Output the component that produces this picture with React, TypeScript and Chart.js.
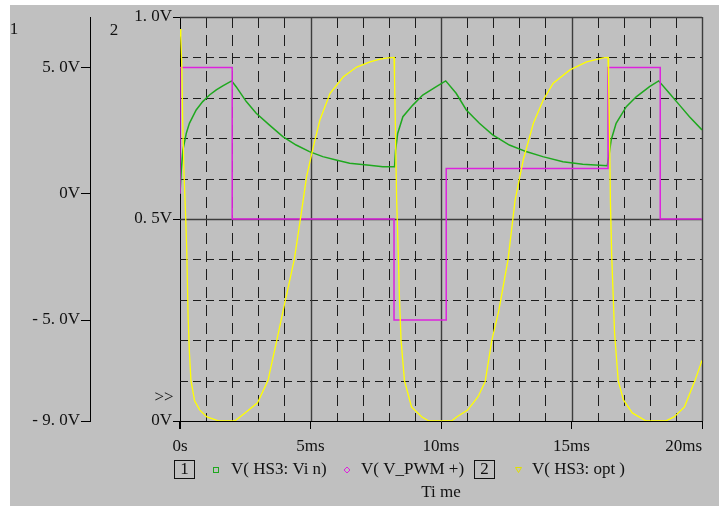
import { useEffect, useRef } from 'react';
import { Chart, registerables } from 'chart.js';

Chart.register(...registerables);

const FONT = '"Liberation Serif", "Times New Roman", serif';

// ---- tick labels ----
const timeTicks = [0, 5, 10, 15, 20];
const timeLabels = ['0s', '5ms', '10ms', '15ms', '20ms'];
const axis1Ticks = [-9, -5, 0, 5];
const axis1Labels = ['- 9. 0V', '- 5. 0V', '0V', '5. 0V'];
const axis2Ticks = [0, 0.5, 1];
const axis2Labels = ['0V', '0. 5V', '1. 0V'];

// ---- V(HS3:Vin) (axis 1, volts) ----
const vinTime = [0, 0.05, 0.11, 0.24, 0.36, 0.62, 0.87, 1.13, 1.39, 1.64, 1.98, 2.15, 2.54, 2.92, 3.43, 3.94, 4.45, 4.96, 5.47, 5.98, 6.5, 7.26, 7.77, 8.22, 8.26, 8.34, 8.54, 8.92, 9.3, 9.82, 10.18, 10.58, 10.97, 11.47, 11.98, 12.62, 13.26, 13.9, 14.67, 15.43, 16.37, 16.43, 16.52, 16.71, 17.1, 17.48, 17.99, 18.34, 18.75, 19.14, 19.52, 20];
const vinVolts = [0, 0.94, 1.73, 2.39, 2.79, 3.32, 3.65, 3.91, 4.11, 4.27, 4.47, 4.24, 3.65, 3.19, 2.72, 2.26, 1.93, 1.67, 1.47, 1.34, 1.21, 1.13, 1.07, 1.07, 1.73, 2.39, 3.05, 3.51, 3.91, 4.24, 4.47, 3.98, 3.32, 2.79, 2.33, 1.93, 1.67, 1.47, 1.27, 1.17, 1.11, 1.47, 2.13, 2.79, 3.45, 3.84, 4.24, 4.47, 3.98, 3.51, 3.05, 2.53];

// ---- V(V_PWM+) (axis 1, volts) ----
const pwmTime = [0, 0, 2, 2, 8.2, 8.2, 10.2, 10.2, 16.4, 16.4, 18.4, 18.4, 20];
const pwmVolts = [0, 5, 5, -1, -1, -5, -5, 1, 1, 5, 5, -1, -1];

// ---- V(HS3:opt) (axis 2, volts) ----
const optTime = [0, 0.03, 0.07, 0.1, 0.15, 0.22, 0.26, 0.31, 0.36, 0.42, 0.56, 0.76, 1.03, 1.5, 2.1, 2.49, 2.97, 3.37, 3.71, 4.04, 4.38, 4.66, 4.85, 5.11, 5.36, 5.75, 6.26, 6.77, 7.28, 7.66, 7.97, 8.2, 8.22, 8.26, 8.3, 8.36, 8.41, 8.47, 8.6, 8.87, 9.27, 9.54, 10.4, 10.6, 11.02, 11.42, 11.69, 11.95, 12.22, 12.57, 12.84, 13.15, 13.54, 13.92, 14.3, 14.94, 15.58, 16.21, 16.4, 16.42, 16.46, 16.49, 16.54, 16.65, 16.79, 16.99, 17.33, 17.86, 18.6, 18.93, 19.33, 19.73, 20];
const optVolts = [0.97, 0.95, 0.88, 0.75, 0.62, 0.5, 0.42, 0.26, 0.17, 0.1, 0.05, 0.027, 0.01, 0, 0, 0.02, 0.045, 0.1, 0.2, 0.3, 0.4, 0.52, 0.605, 0.679, 0.745, 0.811, 0.852, 0.876, 0.889, 0.896, 0.899, 0.9, 0.85, 0.7, 0.55, 0.42, 0.3, 0.2, 0.1, 0.035, 0.01, 0, 0, 0.01, 0.027, 0.06, 0.097, 0.2, 0.275, 0.4, 0.547, 0.646, 0.737, 0.795, 0.836, 0.869, 0.889, 0.899, 0.9, 0.85, 0.7, 0.547, 0.41, 0.218, 0.1, 0.052, 0.02, 0, 0, 0.01, 0.035, 0.1, 0.15];

// grid steps
const minorTimeGrid = [1, 2, 3, 4, 6, 7, 8, 9, 11, 12, 13, 14, 16, 17, 18, 19];
const majorTimeGrid = [5, 10, 15, 20];
const minorVoltGrid = [0.1, 0.2, 0.3, 0.4, 0.6, 0.7, 0.8, 0.9];
const majorVoltGrid = [0.5, 1];

const pairs = (xs: number[], ys: number[]) => xs.map((x, i) => ({ x, y: ys[i] }));

const COLORS = { bg: '#c0c0c0', green: '#1ea81e', magenta: '#dd22dd', yellow: '#ffff00', ink: '#111111', major: '#3c3c3c', minor: '#1c1c1c' };

const bgPlugin = {
  id: 'bgPlugin',
  beforeDraw(chart: any) {
    const { ctx } = chart;
    ctx.save();
    ctx.fillStyle = COLORS.bg;
    ctx.fillRect(10, 5, chart.width - 10, chart.height - 5);
    ctx.restore();
  },
};

const gridPlugin = {
  id: 'gridPlugin',
  beforeDatasetsDraw(chart: any) {
    const { ctx, chartArea } = chart;
    const { left, right, top, bottom } = chartArea;
    const x = chart.scales.x;
    const y2 = chart.scales.y2;
    const al = (v: number) => Math.round(v) + 0.5;
    ctx.save();
    ctx.lineWidth = 1;
    ctx.strokeStyle = COLORS.minor;
    ctx.setLineDash([11, 7]);
    for (const t of minorTimeGrid) {
      const px = al(x.getPixelForValue(t));
      ctx.beginPath(); ctx.moveTo(px, top); ctx.lineTo(px, bottom); ctx.stroke();
    }
    ctx.setLineDash([8, 5]);
    for (const v of minorVoltGrid) {
      const py = al(y2.getPixelForValue(v));
      ctx.beginPath(); ctx.moveTo(left, py); ctx.lineTo(right, py); ctx.stroke();
    }
    ctx.setLineDash([]);
    ctx.strokeStyle = COLORS.major;
    ctx.lineWidth = 1.4;
    for (const t of majorTimeGrid) {
      const px = al(x.getPixelForValue(t));
      ctx.beginPath(); ctx.moveTo(px, top); ctx.lineTo(px, bottom); ctx.stroke();
    }
    for (const v of majorVoltGrid) {
      const py = al(y2.getPixelForValue(v));
      ctx.beginPath(); ctx.moveTo(left, py); ctx.lineTo(right, py); ctx.stroke();
    }
    ctx.restore();
  },
};

const annotatePlugin = {
  id: 'annotatePlugin',
  afterDraw(chart: any) {
    const { ctx } = chart;
    const y2 = chart.scales.y2;
    ctx.save();
    ctx.fillStyle = COLORS.ink;
    ctx.strokeStyle = COLORS.ink;
    ctx.font = `17px ${FONT}`;
    ctx.textBaseline = 'middle';
    ctx.textAlign = 'center';
    ctx.fillText('1', 14, 30);
    ctx.fillText('2', 114, 31);
    ctx.fillText('>>', 164, y2.getPixelForValue(0.057));
    // legend
    const ly = 470;
    ctx.lineWidth = 1;
    ctx.strokeRect(174.5, 460.5, 20, 18);
    ctx.fillText('1', 184.5, ly);
    ctx.strokeRect(474.5, 460.5, 20, 18);
    ctx.fillText('2', 484.5, ly);
    ctx.textAlign = 'left';
    ctx.fillText('V( HS3: Vi n)', 231, ly);
    ctx.fillText('V( V_PWM +)', 361, ly);
    ctx.fillText('V( HS3: opt )', 532, ly);
    ctx.textAlign = 'center';
    ctx.fillText('Ti me', 441, 493);
    // markers
    ctx.strokeStyle = COLORS.green;
    ctx.strokeRect(213.5, 467.5, 5, 5);
    ctx.strokeStyle = COLORS.magenta;
    ctx.beginPath();
    ctx.moveTo(347, 467); ctx.lineTo(350, 470); ctx.lineTo(347, 473); ctx.lineTo(344, 470); ctx.closePath();
    ctx.stroke();
    ctx.strokeStyle = '#e0e000';
    ctx.beginPath();
    ctx.moveTo(515.5, 467.5); ctx.lineTo(521.5, 467.5); ctx.lineTo(518.5, 472.5); ctx.closePath();
    ctx.stroke();
    ctx.restore();
  },
};

export default function App() {
  const ref = useRef<HTMLCanvasElement | null>(null);

  useEffect(() => {
    if (!ref.current) return;
    Chart.defaults.font.family = FONT;
    Chart.defaults.font.size = 17;
    Chart.defaults.color = COLORS.ink;

    const noPad = (s: any) => { s.paddingLeft = 0; s.paddingRight = 0; s.paddingTop = 0; s.paddingBottom = 0; };

    const chart = new Chart(ref.current, {
      type: 'line',
      data: {
        datasets: [
          { label: 'V(HS3:opt)', data: pairs(optTime, optVolts), yAxisID: 'y2', borderColor: COLORS.yellow, borderWidth: 1.3, pointRadius: 0, tension: 0, fill: false },
          { label: 'V(V_PWM+)', data: pairs(pwmTime, pwmVolts), yAxisID: 'y1', borderColor: COLORS.magenta, borderWidth: 1.5, pointRadius: 0, tension: 0, fill: false },
          { label: 'V(HS3:Vin)', data: pairs(vinTime, vinVolts), yAxisID: 'y1', borderColor: COLORS.green, borderWidth: 1.5, pointRadius: 0, tension: 0, fill: false },
        ],
      },
      options: {
        responsive: false,
        animation: false,
        devicePixelRatio: 1,
        parsing: true,
        layout: { padding: { left: 10, right: 17, top: 17, bottom: 0 } },
        plugins: { legend: { display: false }, tooltip: { enabled: false } },
        scales: {
          x: {
            type: 'linear',
            position: 'bottom',
            min: 0,
            max: 20,
            afterBuildTicks: (s: any) => { s.ticks = [{ value: -1e-6 }, ...timeTicks.map((v) => ({ value: v }))]; },
            afterFit: (s: any) => { s.height = 85; noPad(s); },
            ticks: {
              autoSkip: false,
              maxRotation: 0,
              align: 'inner',
              padding: 7,
              color: COLORS.ink,
              callback: (v: any) => { const i = timeTicks.indexOf(Number(v)); return i >= 0 ? timeLabels[i] : ''; },
            },
            grid: { drawOnChartArea: false, drawTicks: true, tickLength: 8, tickColor: '#000', tickWidth: 1 },
            border: { display: true, color: '#000', width: 1 },
          },
          y2: {
            type: 'linear',
            position: 'left',
            weight: 0,
            min: 0,
            max: 1,
            afterBuildTicks: (s: any) => { s.ticks = axis2Ticks.map((v) => ({ value: v })); },
            afterFit: (s: any) => { s.width = 90; noPad(s); },
            ticks: {
              autoSkip: false,
              padding: 1,
              color: COLORS.ink,
              callback: (v: any) => { const i = axis2Ticks.indexOf(Number(v)); return i >= 0 ? axis2Labels[i] : ''; },
            },
            grid: { drawOnChartArea: false, drawTicks: true, tickLength: 7, tickColor: '#000', tickWidth: 1 },
            border: { display: true, color: '#000', width: 1 },
          },
          y1: {
            type: 'linear',
            position: 'left',
            weight: 1,
            min: -9,
            max: 7,
            afterBuildTicks: (s: any) => { s.ticks = axis1Ticks.map((v) => ({ value: v })); },
            afterFit: (s: any) => { s.width = 80; noPad(s); },
            ticks: {
              autoSkip: false,
              padding: 1,
              color: COLORS.ink,
              callback: (v: any) => { const i = axis1Ticks.indexOf(Number(v)); return i >= 0 ? axis1Labels[i] : ''; },
            },
            grid: { drawOnChartArea: false, drawTicks: true, tickLength: 9, tickColor: '#000', tickWidth: 1 },
            border: { display: true, color: '#000', width: 1 },
          },
        },
      } as any,
      plugins: [bgPlugin, gridPlugin, annotatePlugin],
    });
    return () => chart.destroy();
  }, []);

  return (
    <div style={{ position: 'absolute', left: 0, top: 0, width: 719, height: 506 }}>
      <canvas ref={ref} width={719} height={506} style={{ display: 'block', width: 719, height: 506 }} />
    </div>
  );
}
